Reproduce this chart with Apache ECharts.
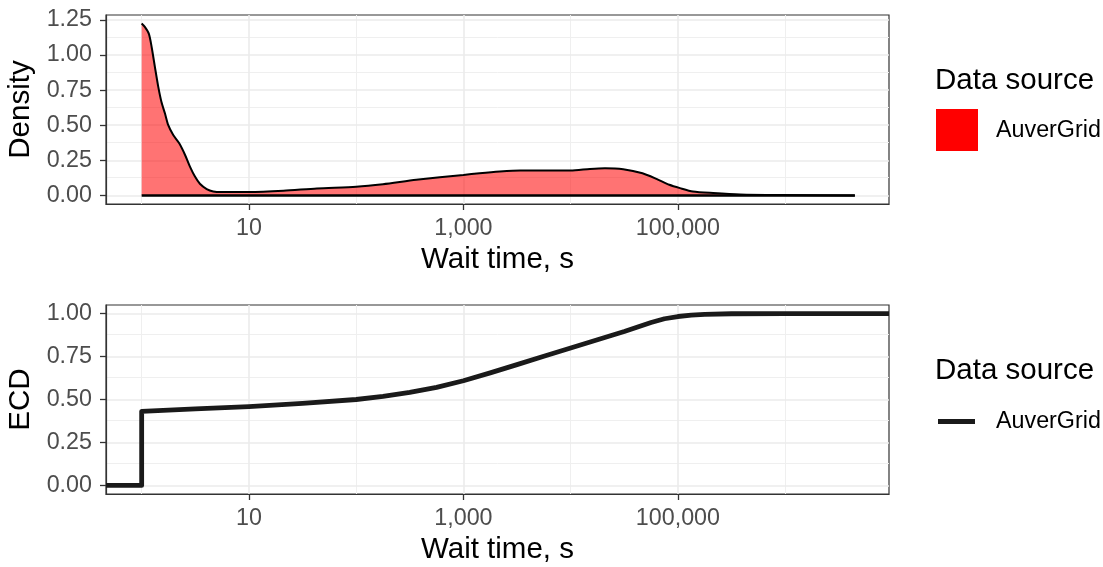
<!DOCTYPE html>
<html><head><meta charset="utf-8">
<script src="https://cdn.jsdelivr.net/npm/echarts@6/dist/echarts.min.js"></script>
<style>html,body{margin:0;padding:0;background:#fff}#c{width:1103px;height:567px}</style>
</head><body><div id="c"></div>
<script>
// ---- data (wait time in seconds) ----
const densityWait = [1, 1.07, 1.17, 1.24, 1.33, 1.43, 1.53, 1.65, 1.77, 1.97, 2.24, 2.54, 2.82, 3.14, 3.49, 4.04, 4.65, 5.57, 10, 21, 43, 100, 178, 363, 1000, 1413, 2188, 3388, 10000, 15136, 20893, 30903, 46774, 63096, 83176, 104713, 138038, 213796, 380189, 891251, 4466836];
const densityValue = [1.224, 1.20, 1.149, 1.055, 0.913, 0.771, 0.665, 0.583, 0.50, 0.43, 0.371, 0.288, 0.205, 0.134, 0.083, 0.045, 0.028, 0.024, 0.024, 0.033, 0.05, 0.062, 0.08, 0.111, 0.146, 0.158, 0.170, 0.177, 0.177, 0.189, 0.194, 0.187, 0.158, 0.118, 0.076, 0.052, 0.028, 0.017, 0.007, 0.003, 0.0];
const ecdWait = [1, 1, 3.16, 10, 31.6, 100, 178, 316, 562, 1000, 1778, 3162, 5623, 10000, 17783, 31623, 42170, 56234, 74989, 100000, 133352, 177828, 316228, 1000000];
const ecdValue = [0, 0.431, 0.445, 0.458, 0.477, 0.500, 0.518, 0.541, 0.571, 0.609, 0.655, 0.703, 0.752, 0.800, 0.848, 0.896, 0.922, 0.948, 0.970, 0.983, 0.991, 0.996, 0.999, 1.0];
const xTickWait = [10, 1000, 100000];
const xMinorWait = [1, 100, 10000, 1000000];
const densityTicks = [0, 0.25, 0.5, 0.75, 1, 1.25];
const densityMinor = [0.125, 0.375, 0.625, 0.875, 1.125];
const ecdTicks = [0, 0.25, 0.5, 0.75, 1];
const ecdMinor = [0.125, 0.375, 0.625, 0.875];
const seriesName = 'AuverGrid';
const legendTitle = 'Data source';
const xTitle = 'Wait time, s';
const xLimits = [0.465, 9.3e6];
const densityLimits = [-0.061, 1.285];
const ecdLimits = [-0.05, 1.05];

const FONT = '"Liberation Sans", Arial, sans-serif';
const TITLE_SIZE = 29.5;
const TEXT_SIZE = 23.3;
const lg = Math.log10;
const densityData = densityWait.map((w, i) => [lg(w), densityValue[i]]);
const ecdData = [[lg(xLimits[0]), 0]].concat(ecdWait.map((w, i) => [lg(w), ecdValue[i]]), [[lg(xLimits[1]), ecdValue[ecdValue.length - 1]]]);

function xAxisFor(gi) {
  return {
    type: 'value', gridIndex: gi, min: lg(xLimits[0]), max: lg(xLimits[1]),
    name: xTitle, nameLocation: 'middle', nameGap: 41,
    nameTextStyle: { fontSize: TITLE_SIZE, color: '#000', fontFamily: FONT },
    axisLine: { show: true, onZero: false, lineStyle: { color: '#333', width: 1.2 } },
    axisTick: { show: true, length: 6, customValues: xTickWait.map(lg), lineStyle: { color: '#333', width: 1.3 } },
    axisLabel: { customValues: xTickWait.map(lg), margin: 13, fontSize: TEXT_SIZE, color: '#4d4d4d', fontFamily: FONT,
      formatter: v => Math.round(Math.pow(10, v)).toLocaleString('en-US') },
    splitLine: { show: false }
  };
}
function yAxisFor(gi, lim, ticks, name) {
  return {
    type: 'value', gridIndex: gi, min: lim[0], max: lim[1],
    name: name, nameLocation: 'middle', nameGap: 69, nameRotate: 90,
    nameTextStyle: { fontSize: TITLE_SIZE, color: '#000', fontFamily: FONT },
    axisLine: { show: true, onZero: false, lineStyle: { color: '#333', width: 1.2 } },
    axisTick: { show: true, length: 6, customValues: ticks, lineStyle: { color: '#333', width: 1.3 } },
    axisLabel: { customValues: ticks, margin: 14, fontSize: TEXT_SIZE, color: '#4d4d4d', fontFamily: FONT,
      formatter: v => v.toFixed(2) },
    splitLine: { show: false }
  };
}
function gridLines(gi, yMajor, yMinor) {
  const major = { color: '#ebebeb', width: 1.6, type: 'solid' };
  const minor = { color: '#efefef', width: 1, type: 'solid' };
  const d = [];
  xMinorWait.forEach(w => d.push({ xAxis: lg(w), lineStyle: minor }));
  yMinor.forEach(v => d.push({ yAxis: v, lineStyle: minor }));
  xTickWait.forEach(w => d.push({ xAxis: lg(w), lineStyle: major }));
  yMajor.forEach(v => d.push({ yAxis: v, lineStyle: major }));
  return {
    type: 'line', xAxisIndex: gi, yAxisIndex: gi, data: [], silent: true, z: 0,
    markLine: { silent: true, z: 0, symbol: ['none', 'none'], label: { show: false }, animation: false,
      emphasis: { disabled: true }, data: d }
  };
}

const chart = echarts.init(document.getElementById('c'), null, { renderer: 'canvas' });
chart.setOption({
  animation: false,
  backgroundColor: '#fff',
  grid: [
    { left: 106, top: 15, width: 783, height: 189, show: true, borderColor: '#333', borderWidth: 1.2, backgroundColor: 'transparent', outerBoundsMode: 'none' },
    { left: 106, top: 305, width: 783, height: 189, show: true, borderColor: '#333', borderWidth: 1.2, backgroundColor: 'transparent', outerBoundsMode: 'none' }
  ],
  xAxis: [xAxisFor(0), xAxisFor(1)],
  yAxis: [yAxisFor(0, densityLimits, densityTicks, 'Density'), yAxisFor(1, ecdLimits, ecdTicks, 'ECD')],
  series: [
    gridLines(0, densityTicks, densityMinor),
    gridLines(1, ecdTicks, ecdMinor),
    {
      name: seriesName, type: 'line', xAxisIndex: 0, yAxisIndex: 0, data: densityData,
      showSymbol: false, smooth: 0.25, z: 3,
      lineStyle: { color: '#000', width: 2 },
      areaStyle: { color: 'rgba(255,0,0,0.55)', opacity: 1 }
    },
    {
      name: seriesName + ' baseline', type: 'line', xAxisIndex: 0, yAxisIndex: 0,
      data: [[densityData[0][0], 0], [densityData[densityData.length - 1][0], 0]],
      showSymbol: false, z: 4, lineStyle: { color: '#000', width: 2.5 }
    },
    {
      name: seriesName, type: 'line', xAxisIndex: 1, yAxisIndex: 1, data: ecdData,
      showSymbol: false, smooth: false, z: 3,
      lineStyle: { color: '#1a1a1a', width: 4.8, join: 'round', cap: 'butt' }
    }
  ],
  graphic: [
    { type: 'text', style: { text: legendTitle, x: 935, y: 80.5, font: TITLE_SIZE + 'px ' + FONT, fill: '#000', align: 'left', verticalAlign: 'middle' } },
    { type: 'rect', shape: { x: 936, y: 109, width: 42, height: 42 }, style: { fill: '#ff0000' } },
    { type: 'text', style: { text: seriesName, x: 996, y: 131, font: TEXT_SIZE + 'px ' + FONT, fill: '#000', align: 'left', verticalAlign: 'middle' } },
    { type: 'text', style: { text: legendTitle, x: 935, y: 371, font: TITLE_SIZE + 'px ' + FONT, fill: '#000', align: 'left', verticalAlign: 'middle' } },
    { type: 'line', shape: { x1: 938, y1: 421.5, x2: 975, y2: 421.5 }, style: { stroke: '#1a1a1a', lineWidth: 5 } },
    { type: 'text', style: { text: seriesName, x: 996, y: 422, font: TEXT_SIZE + 'px ' + FONT, fill: '#000', align: 'left', verticalAlign: 'middle' } }
  ]
});
</script></body></html>
